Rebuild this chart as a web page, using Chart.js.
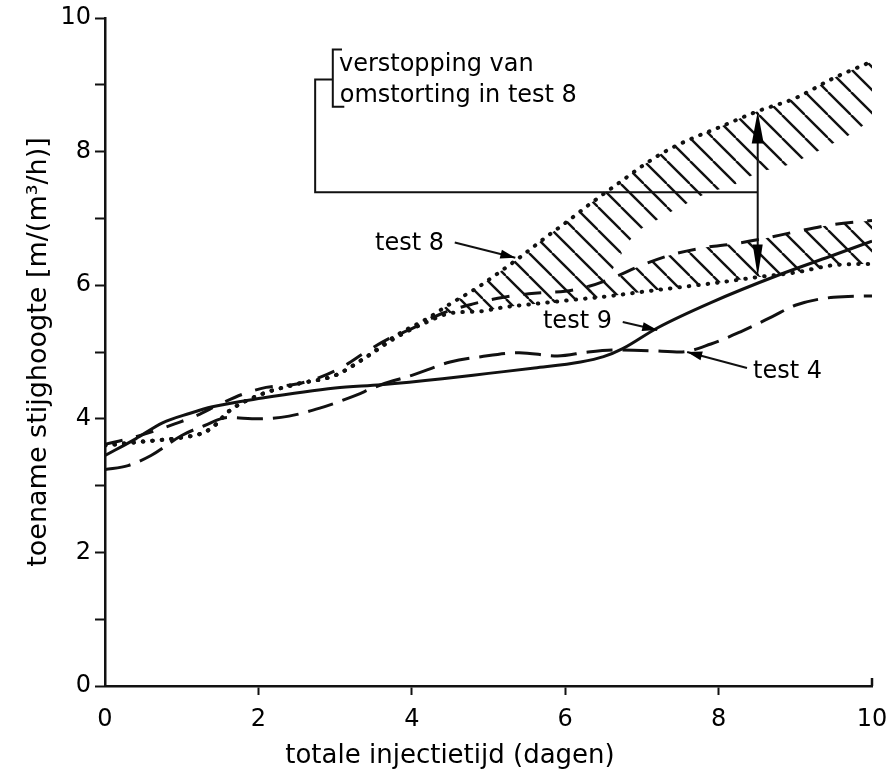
<!DOCTYPE html>
<html>
<head>
<meta charset="utf-8">
<title>toename stijghoogte</title>
<script src="https://cdn.jsdelivr.net/npm/chart.js@4.4.0/dist/chart.umd.min.js"></script>
<style>
  html, body { margin: 0; padding: 0; background: #fff; }
  #chart { display: block; }
</style>
</head>
<body>
<canvas id="chart" width="886" height="769"></canvas>
<script>
// toename stijghoogte per test, tegen de totale injectietijd in dagen

// test 9 (doorgetrokken lijn)
const test9Dagen = [0, 0.4, 0.75, 1.1, 1.4, 2.05, 3.0, 3.6, 4.4, 5.0, 5.6, 6.2, 6.5, 6.75, 7.2, 7.9, 8.8, 9.45, 10];
const test9Stijg = [3.45, 3.7, 3.94, 4.08, 4.18, 4.31, 4.46, 4.51, 4.6, 4.68, 4.76, 4.85, 4.93, 5.05, 5.36, 5.74, 6.16, 6.43, 6.66];

// test 4 (lange streep)
const test4Dagen = [0, 0.3, 0.6, 1.0, 1.3, 1.6, 2.0, 2.4, 2.8, 3.2, 3.6, 4.0, 4.5, 4.9, 5.4, 5.9, 6.3, 6.7, 7.1, 7.5, 7.9, 8.3, 8.7, 9.0, 9.5, 10];
const test4Stijg = [3.24, 3.3, 3.45, 3.75, 3.9, 4.02, 4.0, 4.04, 4.16, 4.32, 4.51, 4.65, 4.85, 4.93, 4.99, 4.94, 5.0, 5.03, 5.02, 5.0, 5.12, 5.31, 5.53, 5.7, 5.82, 5.84];

// korte streep
const kortDagen = [0, 0.3, 0.65, 0.9, 1.2, 1.5, 1.8, 2.1, 2.5, 2.8, 3.1, 3.4, 3.7, 4.0, 4.4, 4.8, 5.2, 5.6, 6.0, 6.3, 6.6, 7.0, 7.4, 7.8, 8.2, 8.6, 9.0, 9.5, 10];
const kortStijg = [3.62, 3.7, 3.82, 3.92, 4.05, 4.22, 4.37, 4.47, 4.52, 4.62, 4.78, 5.0, 5.2, 5.35, 5.58, 5.72, 5.82, 5.88, 5.91, 5.98, 6.1, 6.3, 6.46, 6.56, 6.62, 6.7, 6.8, 6.91, 6.97];

// test 8, bovengrens (stippel)
const test8BovenDagen = [0, 0.5, 1.0, 1.3, 1.45, 1.6, 2.0, 2.5, 3.0, 3.4, 3.8, 4.2, 4.5, 4.85, 5.1, 5.4, 5.75, 6.0, 6.35, 6.7, 7.0, 7.3, 7.6, 8.0, 8.5, 9.0, 9.5, 10];
const test8BovenStijg = [3.6, 3.66, 3.72, 3.8, 3.92, 4.1, 4.35, 4.52, 4.65, 4.92, 5.25, 5.5, 5.72, 5.96, 6.16, 6.41, 6.72, 6.93, 7.24, 7.53, 7.78, 8.0, 8.17, 8.36, 8.6, 8.8, 9.1, 9.35];

// test 8, ondergrens (stippel)
const test8OnderDagen = [0, 0.5, 1.0, 1.3, 1.45, 1.6, 2.0, 2.5, 3.0, 3.4, 3.8, 4.2, 4.5, 4.9, 5.2, 5.6, 6.1, 6.6, 7.0, 7.5, 8.0, 8.5, 9.0, 9.5, 10];
const test8OnderStijg = [3.6, 3.66, 3.72, 3.8, 3.92, 4.1, 4.35, 4.52, 4.65, 4.92, 5.22, 5.45, 5.58, 5.61, 5.67, 5.72, 5.78, 5.84, 5.9, 5.97, 6.04, 6.12, 6.19, 6.3, 6.32];

// onderrand van het bovenste gearceerde vlak
const arceerDagen = [3.8, 4.2, 4.5, 4.9, 5.2, 5.6, 6.1, 6.5, 6.9, 7.2, 7.55, 7.85, 8.2, 8.5, 8.9, 9.5, 9.75, 10];
const arceerStijg = [5.22, 5.45, 5.58, 5.61, 5.67, 5.72, 5.78, 6.05, 6.75, 6.98, 7.2, 7.38, 7.5, 7.68, 7.8, 8.13, 8.28, 8.5];

const xTicks = [0, 2, 4, 6, 8, 10];
const yLabelTicks = [0, 2, 4, 6, 8, 10];

const xTitel = 'totale injectietijd (dagen)';
const yTitel = 'toename stijghoogte [m/(m³/h)]';
const notitie = ['verstopping van', 'omstorting in test 8'];
const testLabels = ['test 8', 'test 9', 'test 4'];

const INK = '#111';
const TEXT = '#000';
const FONT = 'DejaVu Sans';

function pairs(xs, ys) {
  return xs.map((x, i) => ({x: x, y: ys[i]}));
}

// schuine arcering
function makeHatch() {
  const s = 23;
  const c = document.createElement('canvas');
  c.width = s; c.height = s;
  const g = c.getContext('2d');
  g.strokeStyle = INK;
  g.lineWidth = 2.4;
  for (const k of [-1, 0, 1]) {
    g.beginPath();
    g.moveTo(k * s, 0);
    g.lineTo(k * s + s, s);
    g.stroke();
  }
  return g.createPattern(c, 'repeat');
}
const hatch = makeHatch();

function arrowHead(ctx, x0, y0, x1, y1, len, half) {
  const a = Math.atan2(y1 - y0, x1 - x0);
  const c = Math.cos(a), s = Math.sin(a);
  ctx.beginPath();
  ctx.moveTo(x1, y1);
  ctx.lineTo(x1 - len * c + half * s, y1 - len * s - half * c);
  ctx.lineTo(x1 - len * c - half * s, y1 - len * s + half * c);
  ctx.closePath();
  ctx.fill();
}

// tekst, haak en pijlen in het diagram
const annotaties = {
  id: 'annotaties',
  afterDatasetsDraw(chart) {
    const ctx = chart.ctx;
    const X = v => chart.scales.x.getPixelForValue(v);
    const Y = v => chart.scales.y.getPixelForValue(v);
    const area = chart.chartArea;

    ctx.save();
    ctx.strokeStyle = INK;
    ctx.fillStyle = TEXT;
    ctx.lineCap = 'butt';

    // haak om de notitie, met verbindingslijn naar de dubbele pijl
    ctx.lineWidth = 2;
    ctx.beginPath();
    ctx.moveTo(X(3.09), Y(9.53));
    ctx.lineTo(X(2.97), Y(9.53));
    ctx.lineTo(X(2.97), Y(8.67));
    ctx.lineTo(X(3.12), Y(8.67));
    ctx.moveTo(X(2.97), Y(9.08));
    ctx.lineTo(X(2.74), Y(9.08));
    ctx.lineTo(X(2.74), Y(7.39));
    ctx.lineTo(X(8.51), Y(7.39));
    ctx.stroke();

    // dubbele pijl tussen boven- en ondergrens van test 8
    const ax = X(8.51), aTop = Y(8.6), aBot = Y(6.13);
    ctx.beginPath();
    ctx.moveTo(ax, aTop + 20);
    ctx.lineTo(ax, aBot - 20);
    ctx.stroke();
    arrowHead(ctx, ax, aBot, ax, aTop, 32, 6);
    arrowHead(ctx, ax, aTop, ax, aBot, 32, 5);

    // notitie
    ctx.font = '24px "' + FONT + '"';
    ctx.textAlign = 'left';
    ctx.textBaseline = 'alphabetic';
    ctx.fillText(notitie[0], X(3.05), Y(9.2));
    ctx.fillText(notitie[1], X(3.06), Y(8.75));

    // labels met pijltjes naar de lijnen
    const labels = [
      {t: testLabels[0], x: 3.52, y: 6.53, from: [4.56, 6.64], to: [5.35, 6.41]},
      {t: testLabels[1], x: 5.71, y: 5.36, from: [6.75, 5.45], to: [7.2, 5.33]},
      {t: testLabels[2], x: 8.45, y: 4.61, from: [8.37, 4.76], to: [7.59, 5.0]}
    ];
    ctx.lineWidth = 2;
    for (const l of labels) {
      ctx.fillText(l.t, X(l.x), Y(l.y));
      const x0 = X(l.from[0]), y0 = Y(l.from[1]);
      const x1 = X(l.to[0]), y1 = Y(l.to[1]);
      ctx.beginPath();
      ctx.moveTo(x0, y0);
      ctx.lineTo(x1, y1);
      ctx.stroke();
      arrowHead(ctx, x0, y0, x1, y1, 15, 4.5);
    }

    // haakje aan het eind van de x-as
    ctx.lineWidth = 2.5;
    ctx.beginPath();
    ctx.moveTo(area.right, area.bottom);
    ctx.lineTo(area.right, area.bottom - 8);
    ctx.stroke();

    // x-as titel
    ctx.font = '26px "' + FONT + '"';
    ctx.textAlign = 'center';
    ctx.fillText(xTitel, area.left + 345, chart.height - 6);
    ctx.restore();
  }
};

const lijn = {
  pointRadius: 0,
  borderColor: INK,
  borderWidth: 3,
  cubicInterpolationMode: 'monotone',
  fill: false
};

new Chart(document.getElementById('chart'), {
  type: 'line',
  data: {
    datasets: [
      Object.assign({}, lijn, {
        label: 'test 8 boven',
        data: pairs(test8BovenDagen, test8BovenStijg),
        borderDash: [0.5, 9],
        borderCapStyle: 'round',
        borderWidth: 4,
        backgroundColor: hatch,
        fill: 5
      }),
      Object.assign({}, lijn, {
        label: 'test 8 onder',
        data: pairs(test8OnderDagen, test8OnderStijg),
        borderDash: [0.5, 9],
        borderCapStyle: 'round',
        borderWidth: 4
      }),
      Object.assign({}, lijn, {
        label: 'korte streep',
        data: pairs(kortDagen, kortStijg),
        borderDash: [18, 14],
        fill: 1,
        backgroundColor: hatch,
        segment: {
          backgroundColor: c => c.p0.parsed.x >= 6.3 ? hatch : 'rgba(0,0,0,0)'
        }
      }),
      Object.assign({}, lijn, {
        label: 'test 9',
        data: pairs(test9Dagen, test9Stijg)
      }),
      Object.assign({}, lijn, {
        label: 'test 4',
        data: pairs(test4Dagen, test4Stijg),
        borderDash: [26, 10]
      }),
      Object.assign({}, lijn, {
        label: 'arcering',
        data: pairs(arceerDagen, arceerStijg),
        borderWidth: 0,
        borderColor: 'rgba(0,0,0,0)'
      })
    ]
  },
  options: {
    responsive: false,
    animation: false,
    layout: { padding: { top: 18, right: 14, left: 0, bottom: 0 } },
    plugins: {
      legend: { display: false },
      tooltip: { enabled: false },
      filler: { drawTime: 'beforeDatasetsDraw' }
    },
    scales: {
      x: {
        type: 'linear',
        min: 0,
        max: 10,
        afterFit: s => { s.height = 83; s.paddingLeft = 0; s.paddingRight = 0; },
        afterBuildTicks: s => { s.ticks = xTicks.map(v => ({value: v})); },
        border: { display: true, color: INK, width: 2.5 },
        grid: {
          drawOnChartArea: false,
          drawTicks: true,
          tickLength: 9,
          tickWidth: 2,
          // geen streepje onder de uiteinden van de as
          tickColor: c => (c.tick && (c.tick.value === 0 || c.tick.value === 10)) ? 'rgba(0,0,0,0)' : INK
        },
        ticks: {
          color: TEXT,
          font: { family: FONT, size: 24 },
          padding: 10,
          maxRotation: 0,
          autoSkip: false
        }
      },
      y: {
        type: 'linear',
        min: 0,
        max: 10,
        afterFit: s => { s.width = 105; s.paddingTop = 0; s.paddingBottom = 0; },
        border: { display: true, color: INK, width: 2.5 },
        grid: { drawOnChartArea: false, drawTicks: true, tickLength: 10, tickWidth: 2, tickColor: INK },
        ticks: {
          stepSize: 1,
          color: TEXT,
          font: { family: FONT, size: 24 },
          padding: 4,
          autoSkip: false,
          callback: v => yLabelTicks.includes(v) ? String(v) : ''
        },
        title: {
          display: true,
          text: yTitel,
          color: TEXT,
          font: { family: FONT, size: 27 },
          padding: { top: 23, bottom: 0 }
        }
      }
    }
  },
  plugins: [annotaties]
});
</script>
</body>
</html>
